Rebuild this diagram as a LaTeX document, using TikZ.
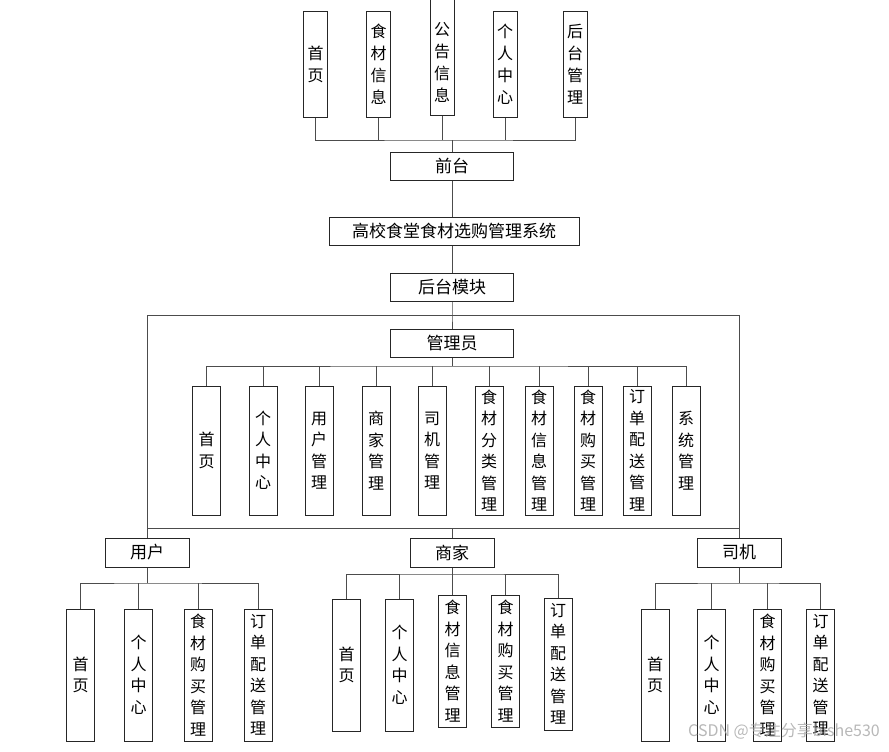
\documentclass[tikz,border=0pt]{standalone}
\usepackage{fontspec}
\newfontfamily\cjk{Noto Sans CJK SC}
\begin{document}
\begin{tikzpicture}[x=1pt,y=-1pt,
  box/.style={draw=black!85, line width=1pt, inner sep=0pt, fill=white},
  hbox/.style={box, minimum height=28pt, font={\cjk\fontsize{17}{19}\selectfont}},
  vbox/.style={box, minimum width=28pt, align=center, font={\cjk\fontsize{16}{21.5}\selectfont}},
  tbox/.style={box, minimum width=24pt, minimum height=105pt, align=center, font={\cjk\fontsize{16}{22}\selectfont}},
  vtext/.style={inner sep=0pt, align=center, font={\cjk\fontsize{16}{22}\selectfont}},
  ln/.style={draw=black!70, line width=1pt}]
\useasboundingbox (0,0) rectangle (889,752);

% ---- top level (front end) ----
\node[tbox] (t1) at (315.5,64.5) {首\\页};
\node[tbox] (t2) at (378.5,64.5) {食\\材\\信\\息};
\node[tbox, minimum height=121pt] (t3) at (442,54.5) {};
\node[vtext] (t3t) at (442,62) {公\\告\\信\\息};
\node[tbox] (t4) at (505,64.5) {个\\人\\中\\心};
\node[tbox] (t5) at (575,64.5) {后\\台\\管\\理};

\node[hbox, minimum width=123pt] (qt) at (452,166) {前台};
\node[hbox, minimum width=250pt] (sys) at (454,231) {高校食堂食材选购管理系统};
\node[hbox, minimum width=123pt] (ht) at (452,287.5) {后台模块};
\node[hbox, minimum width=123pt] (gly) at (452,343.5) {管理员};

\coordinate (tb) at (452,140);
\draw[ln] (t1.south) |- (tb) -| (t5.south);
\draw[ln] (t2.south) -- (t2.south |- tb);
\draw[ln] (t3.south) -- (t3.south |- tb);
\draw[ln] (t4.south) -- (t4.south |- tb);
\draw[ln] (tb) -- (qt.north);
\draw[ln] (qt.south) -- (qt.south |- sys.north);
\draw[ln] (qt.south |- sys.south) -- (ht.north);

% ---- frame ----
\coordinate (fl) at (147,315);
\coordinate (fr) at (739,528);
\coordinate (fm) at (452,315);
\draw[ln] (fl) rectangle (fr);
\draw[ln] (ht.south) -- (fm) -- (gly.north);

% ---- admin children ----
\node[vbox, minimum height=129pt] (a1) at (206.5,450.5) {首\\页};
\node[vbox, minimum height=129pt] (a2) at (263,450.5) {个\\人\\中\\心};
\node[vbox, minimum height=129pt] (a3) at (319,450.5) {用\\户\\管\\理};
\node[vbox, minimum height=129pt] (a4) at (376,450.5) {商\\家\\管\\理};
\node[vbox, minimum height=129pt] (a5) at (432,450.5) {司\\机\\管\\理};
\node[vbox, minimum height=129pt] (a6) at (489,450.5) {食\\材\\分\\类\\管\\理};
\node[vbox, minimum height=129pt] (a7) at (539,450.5) {食\\材\\信\\息\\管\\理};
\node[vbox, minimum height=129pt] (a8) at (588,450.5) {食\\材\\购\\买\\管\\理};
\node[vbox, minimum height=129pt] (a9) at (637,450.5) {订\\单\\配\\送\\管\\理};
\node[vbox, minimum height=129pt] (a10) at (686,450.5) {系\\统\\管\\理};

\coordinate (ab) at (452,366);
\draw[ln] (gly.south) -- (ab);
\draw[ln] (a1.north) |- (ab) -| (a10.north);
\foreach \n in {a2,a3,a4,a5,a6,a7,a8,a9} \draw[ln] (\n.north) -- (\n.north |- ab);

% ---- roles ----
\node[hbox, minimum width=84pt, minimum height=29pt] (yh) at (147,552.5) {用户};
\node[hbox, minimum width=84pt, minimum height=29pt] (sj) at (452,552.5) {商家};
\node[hbox, minimum width=84pt, minimum height=29pt] (dr) at (739,552.5) {司机};
\draw[ln] (fl |- fr) -- (yh.north);
\draw[ln] (fm |- fr) -- (sj.north);
\draw[ln] (fr) -- (dr.north);

% ---- user children ----
\node[vbox, minimum height=132pt] (u1) at (80.5,675) {首\\页};
\node[vbox, minimum height=132pt] (u2) at (138.5,675) {个\\人\\中\\心};
\node[vbox, minimum height=132pt] (u3) at (198,675) {食\\材\\购\\买\\管\\理};
\node[vbox, minimum height=132pt] (u4) at (258,675) {订\\单\\配\\送\\管\\理};
\coordinate (ub) at (147,583);
\draw[ln] (yh.south) -- (ub);
\draw[ln] (u1.north) |- (ub) -| (u4.north);
\foreach \n in {u2,u3} \draw[ln] (\n.north) -- (\n.north |- ub);

% ---- merchant children ----
\node[vbox, minimum height=132pt] (m1) at (346.5,665) {首\\页};
\node[vbox, minimum height=132pt] (m2) at (399.5,665) {个\\人\\中\\心};
\node[vbox, minimum height=132pt] (m3) at (452.5,661) {食\\材\\信\\息\\管\\理};
\node[vbox, minimum height=132pt] (m4) at (505.5,661) {食\\材\\购\\买\\管\\理};
\node[vbox, minimum height=132pt] (m5) at (558,664) {订\\单\\配\\送\\管\\理};
\coordinate (mb) at (452,574);
\draw[ln] (sj.south) -- (mb);
\draw[ln] (m1.north) |- (mb) -| (m5.north);
\foreach \n in {m2,m3,m4} \draw[ln] (\n.north) -- (\n.north |- mb);

% ---- driver children ----
\node[vbox, minimum height=132pt] (d1) at (655,675) {首\\页};
\node[vbox, minimum height=132pt] (d2) at (711.5,675) {个\\人\\中\\心};
\node[vbox, minimum height=132pt] (d3) at (767.5,675) {食\\材\\购\\买\\管\\理};
\node[vbox, minimum height=132pt] (d4) at (820.5,675) {订\\单\\配\\送\\管\\理};
\coordinate (db) at (739,583);
\draw[ln] (dr.south) -- (db);
\draw[ln] (d1.north) |- (db) -| (d4.north);
\foreach \n in {d2,d3} \draw[ln] (\n.north) -- (\n.north |- db);

% ---- watermark ----
\node[inner sep=0pt, text=black!35, opacity=0.8, font={\cjk\fontsize{16}{18}\selectfont}] (wm) at (784,731) {CSDN @专注分享bishe530};
\end{tikzpicture}
\end{document}
